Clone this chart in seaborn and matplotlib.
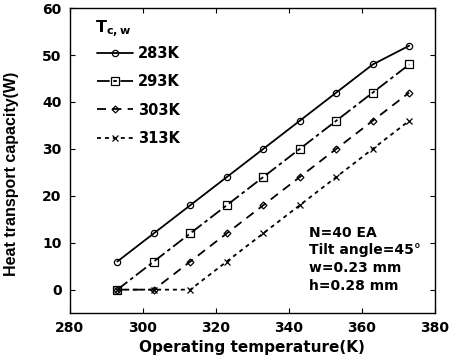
import matplotlib
matplotlib.use("Agg")
import matplotlib.pyplot as plt
import seaborn as sns
import pandas as pd

temps = [293, 303, 313, 323, 333, 343, 353, 363, 373]
cap_283 = [6, 12, 18, 24, 30, 36, 42, 48, 52]
cap_293 = [0, 6, 12, 18, 24, 30, 36, 42, 48]
cap_303 = [0, 0, 6, 12, 18, 24, 30, 36, 42]
cap_313 = [0, 0, 0, 6, 12, 18, 24, 30, 36]
series_labels = ["283K", "293K", "303K", "313K"]
x_ticks = [280, 300, 320, 340, 360, 380]
y_ticks = [0, 10, 20, 30, 40, 50, 60]

sns.set_theme(style="ticks")
plt.rcParams['font.family'] = ['DejaVu Sans']
plt.rcParams['font.weight'] = 'bold'
plt.rcParams['text.color'] = 'black'
plt.rcParams['axes.labelcolor'] = 'black'
plt.rcParams['mathtext.fontset'] = 'custom'
plt.rcParams['mathtext.bf'] = 'DejaVu Sans:bold'
plt.rcParams['mathtext.rm'] = 'DejaVu Sans:bold'

fig = plt.figure(figsize=(4.51, 3.55), dpi=100)
ax = fig.add_axes([0.155, 0.118, 0.964 - 0.155, 0.977 - 0.118])

styles = [
    dict(marker='o', linestyle='-', ms=4.5),
    dict(marker='s', linestyle=(0, (7, 2, 2, 2)), ms=5.5),
    dict(marker='D', linestyle=(0, (5, 3.5)), ms=3.5),
    dict(marker='x', linestyle=(0, (2.2, 2.2)), ms=5),
]
all_caps = [cap_283, cap_293, cap_303, cap_313]
for caps, lab, st in zip(all_caps, series_labels, styles):
    df = pd.DataFrame({"T": temps, "Q": caps})
    sns.lineplot(data=df, x="T", y="Q", ax=ax, color='black', lw=1.3,
                 marker=st['marker'], linestyle=st['linestyle'],
                 markersize=st['ms'], markerfacecolor='none',
                 markeredgecolor='black', markeredgewidth=0.9, label=lab)

ax.set_xlim(280, 380)
ax.set_ylim(-5, 60)
ax.set_xticks(x_ticks)
ax.set_yticks(y_ticks)
ax.tick_params(direction='in', top=True, right=True, length=3.5, width=0.8,
               labelsize=10, pad=6, colors='black')
for lbl in ax.get_xticklabels() + ax.get_yticklabels():
    lbl.set_fontweight('bold')
for sp in ax.spines.values():
    sp.set_color('black')
    sp.set_linewidth(1.0)

ax.set_xlabel("Operating temperature(K)", fontsize=11, fontweight='bold', labelpad=3)
ax.set_ylabel("Heat transport capacity(W)", fontsize=11.5, fontweight='bold',
              family='Liberation Sans')
ax.yaxis.set_label_coords(-0.14, 0.455)

leg = ax.legend(loc='upper left', frameon=False,
                fontsize=10.5, handlelength=2.5,
                labelspacing=0.9, handletextpad=0.3, borderaxespad=0.0,
                borderpad=0.0, bbox_to_anchor=(0.074, 0.875))
for t in leg.get_texts():
    t.set_fontweight('bold')

ax.text(0.068, 0.932, r'$\mathbf{T_{c,w}}$', transform=ax.transAxes,
        fontsize=11.5, va='center', ha='left')

ax.text(0.655, 0.287, "N=40 EA\nTilt angle=45°\nw=0.23 mm\nh=0.28 mm",
        transform=ax.transAxes, fontsize=10, fontweight='bold',
        va='top', ha='left', linespacing=1.35)

fig.savefig("out.png", dpi=100)
